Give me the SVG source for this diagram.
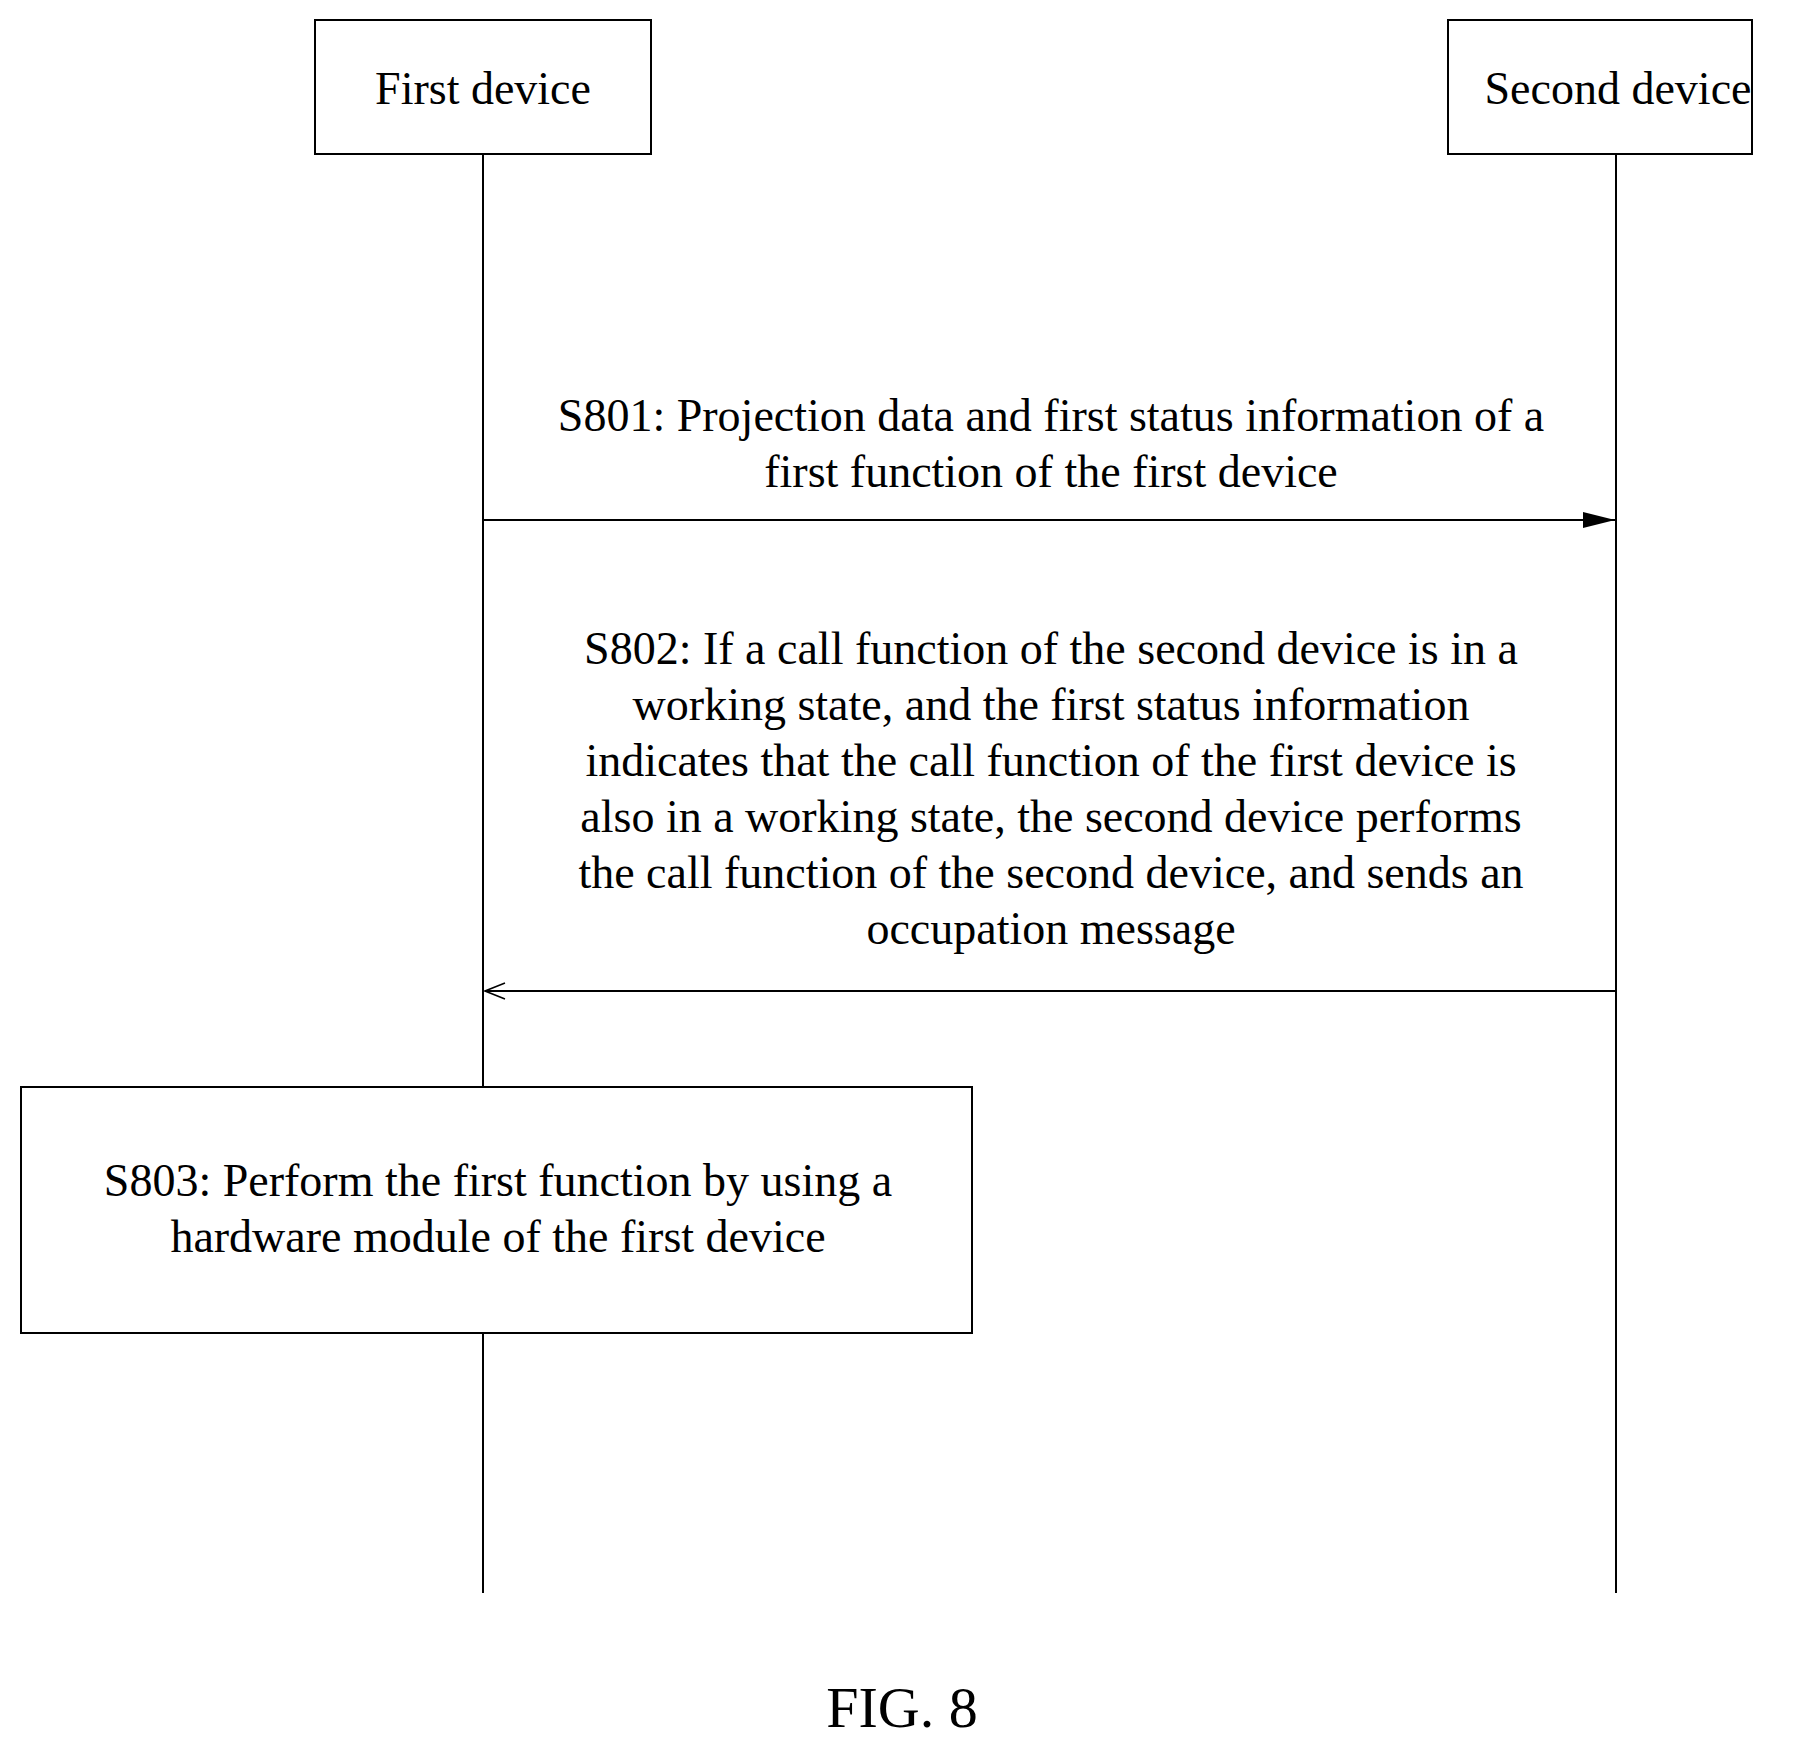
<svg xmlns="http://www.w3.org/2000/svg" width="1797" height="1741" viewBox="0 0 1797 1741">
<style>
.b{fill:#fff;stroke:#000;stroke-width:2}
.l{stroke:#000;stroke-width:2;fill:none}
text{font-family:"Liberation Serif","Times New Roman",serif;font-size:46px;fill:#000;text-anchor:middle}
</style>
<defs>
<marker id="af" markerWidth="32" markerHeight="16" refX="32" refY="8" orient="auto" markerUnits="userSpaceOnUse"><path d="M0,0L32,8L0,16z" fill="#000"/></marker>
<marker id="ao" markerWidth="22" markerHeight="18" refX="21" refY="9" orient="auto" markerUnits="userSpaceOnUse"><path d="M1,1L21,9L1,17" fill="none" stroke="#000" stroke-width="1.5"/></marker>
</defs>
<rect width="1797" height="1741" fill="#fff"/>
<g id="lifelines">
<line class="l" x1="483" y1="154" x2="483" y2="1593"/>
<line class="l" x1="1616" y1="154" x2="1616" y2="1593"/>
</g>
<g id="first"><rect class="b" x="315" y="20" width="336" height="134"/><text x="483" y="104">First device</text></g>
<g id="second"><rect class="b" x="1448" y="20" width="304" height="134"/><text x="1618" y="104">Second device</text></g>
<g id="connectors">
<line class="l" x1="483" y1="520" x2="1615" y2="520" marker-end="url(#af)"/>
<line class="l" x1="1616" y1="991" x2="485" y2="991" marker-end="url(#ao)"/>
</g>
<g id="s801"><text x="1051" y="431">S801: Projection data and first status information of a</text><text x="1051" y="487">first function of the first device</text></g>
<g id="s802">
<text x="1051" y="664">S802: If a call function of the second device is in a</text>
<text x="1051" y="720">working state, and the first status information</text>
<text x="1051" y="776">indicates that the call function of the first device is</text>
<text x="1051" y="832">also in a working state, the second device performs</text>
<text x="1051" y="888">the call function of the second device, and sends an</text>
<text x="1051" y="944">occupation message</text>
</g>
<g id="s803"><rect class="b" x="21" y="1087" width="951" height="246"/><text x="498" y="1196">S803: Perform the first function by using a</text><text x="498" y="1252">hardware module of the first device</text></g>
<text x="902" y="1727" style="font-size:58px">FIG. 8</text>
</svg>
